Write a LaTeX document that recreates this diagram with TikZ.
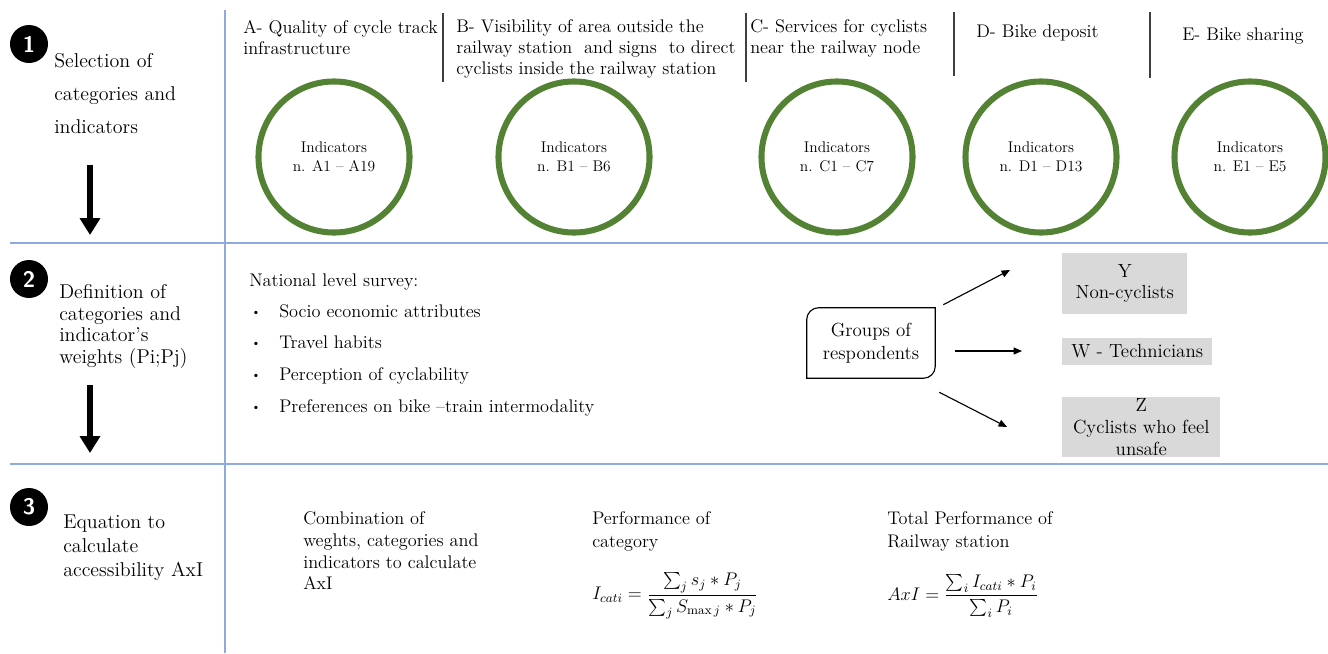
\documentclass[tikz,border=0pt]{standalone}
\usepackage{fix-cm}
\usepackage{amsmath}
\usepackage{fontspec}
\usetikzlibrary{positioning,arrows.meta,calc}
\definecolor{gridblue}{HTML}{8FAADC}
\definecolor{ringgreen}{HTML}{548235}
\definecolor{boxgray}{HTML}{D9D9D9}
\definecolor{sepgray}{HTML}{404040}
\newcommand{\smallbullet}{\makebox[0.7cm][l]{\raisebox{1.3pt}{\fontsize{8}{8}\selectfont\textbullet}}}

\begin{document}
\begin{tikzpicture}[x=0.025cm,y=-0.025cm,>=Stealth,font=\fontsize{13}{16}\selectfont,
  numdot/.style={circle,fill=black,text=white,minimum size=0.95cm,inner sep=0pt,font=\sffamily\bfseries\fontsize{16}{16}\selectfont},
  ringnode/.style={circle,draw=ringgreen,line width=4.3pt,minimum size=3.775cm,align=center,font=\fontsize{11}{13.5}\selectfont},
  headtext/.style={anchor=north west,inner sep=0pt,align=left,font=\fontsize{13}{15}\selectfont},
  rowtext/.style={anchor=north west,inner sep=0pt,align=left},
  itemtext/.style={anchor=base west,inner sep=0pt},
  graybox/.style={fill=boxgray,anchor=west,align=center,inner sep=0pt,font=\fontsize{13.5}{15.5}\selectfont},
  gridline/.style={gridblue,line width=1.1pt},
  sepline/.style={sepgray,line width=1.2pt},
  bigarrow/.style={-{Triangle[length=12pt,width=14pt]},line width=3.6pt},
  thinarrow/.style={-{Triangle[length=6pt,width=5pt]},line width=0.8pt}]
  \useasboundingbox (0,0) rectangle (1328,653);

  % table lines
  \draw[gridline] (225,10) -- (225,653);
  \draw[gridline] (10,243) -- (1328,243);
  \draw[gridline] (10,464) -- (1328,464);
  \draw[sepline] (443,13) -- (443,82);
  \draw[sepline] (746,13) -- (746,82);
  \draw[sepline] (954,12) -- (954,76);
  \draw[sepline] (1150,12) -- (1150,78);

  % steps
  \node[numdot] (n1) at (29,44) {1};
  \node[numdot] (n2) at (29,279) {2};
  \node[numdot] (n3) at (29,507) {3};
  \node[rowtext,font=\fontsize{14.2}{23.5}\selectfont] (sel) at (54,53) {Selection of\\categories and\\indicators};
  \node[rowtext,font=\fontsize{14.2}{15.5}\selectfont] (def) at (59,284) {Definition of\\categories and\\indicator's\\weights (Pi;Pj)};
  \node[rowtext,font=\fontsize{14.2}{16.8}\selectfont] (equ) at (63,515) {Equation to\\calculate\\accessibility AxI};
  \coordinate (d1s) at (90,165);
  \coordinate (d1e) at (90,235);
  \coordinate (d2s) at (90,385);
  \coordinate (d2e) at (90,453);
  \draw[bigarrow] (d1s) -- (d1e);
  \draw[bigarrow] (d2s) -- (d2e);

  % categories
  \node[headtext] (hA) at (243,20) {A- Quality of cycle track\\infrastructure};
  \node[headtext] (hB) at (456,19) {B- Visibility of area outside the\\railway station~ and signs~ to direct\\cyclists inside the railway station};
  \node[headtext] (hC) at (750,19) {C- Services for cyclists\\near the railway node};
  \node[headtext,anchor=base west] (hD) at (976,37) {D- Bike deposit};
  \node[headtext,anchor=base west] (hE) at (1182,40) {E- Bike sharing};
  \node[ringnode] (rA) at (334,157) {Indicators\\n. A1 -- A19};
  \node[ringnode] (rB) at (574,157) {Indicators\\n. B1 -- B6};
  \node[ringnode] (rC) at (837,157) {Indicators\\n. C1 -- C7};
  \node[ringnode] (rD) at (1041,157) {Indicators\\n. D1 -- D13};
  \node[ringnode] (rE) at (1250,157) {Indicators\\n. E1 -- E5};

  % survey
  \node[rowtext] (sv) at (249,274) {National level survey:};
  \node[itemtext] (b1) at (251,317) {\smallbullet Socio economic attributes};
  \node[itemtext] (b2) at (251,348) {\smallbullet Travel habits};
  \node[itemtext] (b3) at (251,380) {\smallbullet Perception of cyclability};
  \node[itemtext] (b4) at (251,412) {\smallbullet Preferences on bike --train intermodality};

  \node[align=center,minimum width=3.2cm,minimum height=1.75cm,inner sep=0pt,font=\fontsize{13.5}{16.5}\selectfont] (grp) at (871,343) {Groups of\\respondents};
  \draw[line width=0.8pt] (grp.south west) -- ([yshift=-0.3cm]grp.north west)
    arc[start angle=180,end angle=90,radius=0.3cm] -- (grp.north east)
    -- ([yshift=0.3cm]grp.south east) arc[start angle=0,end angle=-90,radius=0.3cm] -- cycle;
  \node[graybox,minimum width=3.125cm,minimum height=1.525cm] (ny) at (1062,283.5) {Y\\Non-cyclists};
  \node[graybox,minimum width=3.75cm,minimum height=0.675cm] (tw) at (1062,351.5) {W - Technicians};
  \node[graybox,minimum width=3.95cm,minimum height=1.5cm] (cz) at (1062,427) {Z\\Cyclists who feel\\unsafe};
  \coordinate (tY) at (1010,270);
  \coordinate (tW) at (1022,351);
  \coordinate (tZ) at (1007,427);
  \draw[thinarrow] ($(grp.north east)+(8,-3)$) -- (tY);
  \draw[thinarrow] ($(grp.east)+(20,8)$) -- (tW);
  \draw[thinarrow] ($(grp.south east)+(4,14)$) -- (tZ);

  % equations
  \node[rowtext,font=\fontsize{13}{15.6}\selectfont] (cmb) at (303,511) {Combination of\\weghts, categories and\\indicators to calculate\\AxI};
  \node[rowtext,font=\fontsize{13}{16.4}\selectfont] (pc) at (592,511) {Performance of\\category};
  \node[rowtext,font=\fontsize{13}{16.4}\selectfont] (tp) at (887,511) {Total Performance of\\Railway station};
  \node[anchor=west,inner sep=0pt] (fc) at (592,596) {$I_{cati} = \dfrac{\sum_j s_j * P_j}{\sum_j S_{\max j} * P_j}$};
  \node[anchor=west,inner sep=0pt] (fa) at (887,596) {$AxI = \dfrac{\sum_i I_{cati} * P_i}{\sum_i P_i}$};
\end{tikzpicture}
\end{document}
